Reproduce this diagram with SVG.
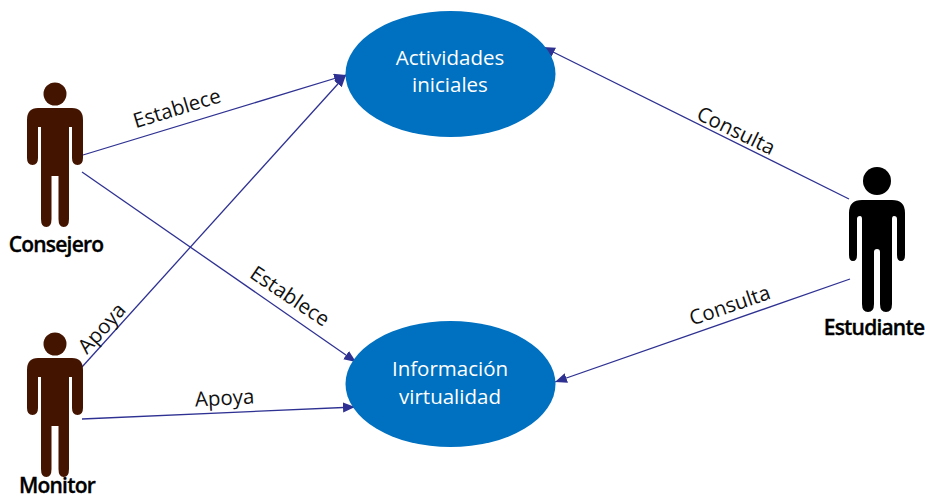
<svg xmlns="http://www.w3.org/2000/svg" width="925" height="499" viewBox="0 0 925 499">
<style>
.conn{fill:none;stroke:#2E3192;stroke-width:1.3;marker-end:url(#arrow)}
.usecase{fill:#0070C0}
.uc{font:20.5px "Open Sans",sans-serif;fill:#fff;text-anchor:middle}
.lab{font:20.5px "Open Sans",sans-serif;fill:#111;text-anchor:middle}
.act{font:600 21px "Open Sans",sans-serif;fill:#000;stroke:#000;stroke-width:.35;text-anchor:middle;letter-spacing:-.8px}
</style>
<defs>
<marker id="arrow" markerUnits="userSpaceOnUse" markerWidth="14" markerHeight="12" refX="12" refY="5" orient="auto"><path d="M0 0L12 5L0 10Z" fill="#2E3192"/></marker>
<path id="person" d="M-17 14H17Q28 14 28 26V64Q28 71 22.500 71Q17 71 17 64V33H14V125Q14 133 8.750 133Q3.500 133 3.500 125V82H-3.500V125Q-3.500 133-8.750 133Q-14 133-14 125V33H-17V64Q-17 71-22.500 71Q-28 71-28 64V26Q-28 14-17 14Z"/>
<path id="person2" d="M-15 0H15Q28 0 28 13V55Q28 61 24 61Q20 61 20 55V19Q20 16 17 16Q15 16 15 19V104Q15 112 9 112Q3 112 3 104V52Q3 49 0 49Q-3 49-3 52V104Q-3 112-9 112Q-15 112-15 104V19Q-15 16-17 16Q-20 16-20 19V55Q-20 61-24 61Q-28 61-28 55V13Q-28 0-15 0Z"/>
</defs>
<g id="connectors">
<path class="conn" d="M83 155L346 75"/>
<path class="conn" d="M82 172L356 362"/>
<path class="conn" d="M82 367L346 75"/>
<path class="conn" d="M82 419L355 407"/>
<path class="conn" d="M849 199L543 47"/>
<path class="conn" d="M850 279L555 382"/>
</g>
<g id="actividades"><ellipse class="usecase" cx="450.500" cy="74" rx="105" ry="63"/><text class="uc" x="450" y="65">Actividades</text><text class="uc" x="450" y="92">iniciales</text></g>
<g id="informacion"><ellipse class="usecase" cx="450.500" cy="384" rx="105" ry="63"/><text class="uc" x="450" y="376">Información</text><text class="uc" x="450" y="404">virtualidad</text></g>
<g id="consejero" fill="#431500"><circle cx="55" cy="94" r="11.500"/><use href="#person" x="55" y="94"/><text class="act" x="56" y="252">Consejero</text></g>
<g id="monitor" fill="#431500"><circle cx="55" cy="344" r="11.500"/><use href="#person" x="55" y="344"/><text class="act" x="57" y="493">Monitor</text></g>
<g id="estudiante" fill="#000"><circle cx="877" cy="181" r="14"/><use href="#person2" x="877" y="200"/><text class="act" x="874" y="335">Estudiante</text></g>
<g id="labels">
<text class="lab" transform="translate(179 115) rotate(-17)">Establece</text>
<text class="lab" transform="translate(286 302) rotate(34)">Establece</text>
<text class="lab" transform="translate(107 333) rotate(-48)">Apoya</text>
<text class="lab" transform="translate(225 405) rotate(-3)">Apoya</text>
<text class="lab" transform="translate(733 137) rotate(26)">Consulta</text>
<text class="lab" transform="translate(732 312) rotate(-19)">Consulta</text>
</g>
</svg>
